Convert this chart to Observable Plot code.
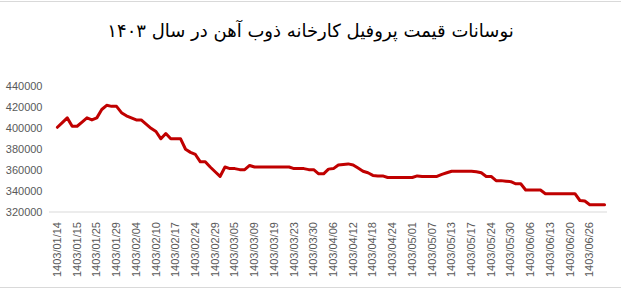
<!DOCTYPE html>
<html>
<head>
<meta charset="utf-8">
<script src="https://cdn.jsdelivr.net/npm/d3@7"></script>
<script src="https://cdn.jsdelivr.net/npm/@observablehq/plot@0.6"></script>
<style>
  html, body { margin: 0; padding: 0; background: #fff; }
  #wrap { position: relative; width: 621px; height: 291px; overflow: hidden; }
  #title { height: 60px; width: 621px; display: flex; align-items: center; justify-content: center;
    font-family: "DejaVu Sans", sans-serif; font-size: 18px; color: #000; direction: rtl; }
  .border { position: absolute; left: 0; width: 621px; height: 1px; background: #d9d9d9; }
</style>
</head>
<body>
<div id="wrap">
  <div class="border" style="top:1px"></div>
  <div id="title">نوسانات قیمت پروفیل کارخانه ذوب آهن در سال ۱۴۰۳</div>
  <div id="chart"></div>
  <div class="border" style="top:287px"></div>
</div>
<script>
// Tick labels (one every 4 data points)
const dateLabels = [
  "1403/01/14","1403/01/15","1403/01/25","1403/01/29","1403/02/04","1403/02/10",
  "1403/02/17","1403/02/24","1403/02/29","1403/03/05","1403/03/09","1403/03/19",
  "1403/03/23","1403/03/30","1403/04/06","1403/04/12","1403/04/18","1403/04/24",
  "1403/05/01","1403/05/07","1403/05/13","1403/05/17","1403/05/24","1403/05/30",
  "1403/06/06","1403/06/13","1403/06/20","1403/06/26"
];
const labelEvery = 4;

// Price series (Rial per kg)
const prices = [
  401000,405500,410000,402000,402000,406000,410000,408000,410000,418000,
  422000,421000,421000,415000,412000,410000,408000,408000,404000,400000,
  397000,390000,395000,390000,390000,390000,380000,377000,375000,368000,
  368000,363000,358500,354000,363000,361500,361500,360500,360500,364500,
  363000,363000,363000,363000,363000,363000,363000,363000,361500,361500,
  361500,360500,360500,356500,356500,361000,361500,365000,365500,366000,
  365000,362000,359000,357500,355000,354500,354500,353000,353000,353000,
  353000,353000,353000,354500,354000,354000,354000,354000,356000,357500,
  359000,359000,359000,359000,359000,358500,357500,354000,354000,350000,
  350000,349500,349000,347000,347000,341000,341000,341000,341000,337500,
  337500,337500,337500,337500,337500,337500,331000,330500,327000,327000,
  327000,327000
];

const yTicks = [320000,340000,360000,380000,400000,420000,440000];

const data = prices.map((v, i) => ({i, v}));
const tickIdx = dateLabels.map((_, k) => k * labelEvery);

const chart = Plot.plot({
  width: 621,
  height: 231,
  marginLeft: 49,
  marginRight: 14,
  marginTop: 26,
  marginBottom: 79.5,
  style: {fontFamily: "Liberation Sans, Arial, sans-serif", fontSize: "11px", color: "#595959", background: "#fff"},
  x: {domain: [-1.6, prices.length - 0.4]},
  y: {domain: [yTicks[0], yTicks[yTicks.length - 1]]},
  marks: [
    Plot.ruleY([yTicks[0]], {stroke: "#d9d9d9", strokeWidth: 1}),
    Plot.axisY({ticks: yTicks, tickFormat: d => String(d), tickSize: 0, tickPadding: 7, label: null, fill: "#595959"}),
    Plot.axisX({ticks: tickIdx, tickFormat: i => dateLabels[i / labelEvery], tickSize: 0, tickPadding: 10, tickRotate: -90, label: null, fill: "#595959"}),
    Plot.lineY(data, {x: "i", y: "v", stroke: "#c00000", strokeWidth: 3, strokeLinejoin: "round", strokeLinecap: "round"})
  ]
});
document.getElementById("chart").appendChild(chart);
</script>
</body>
</html>
